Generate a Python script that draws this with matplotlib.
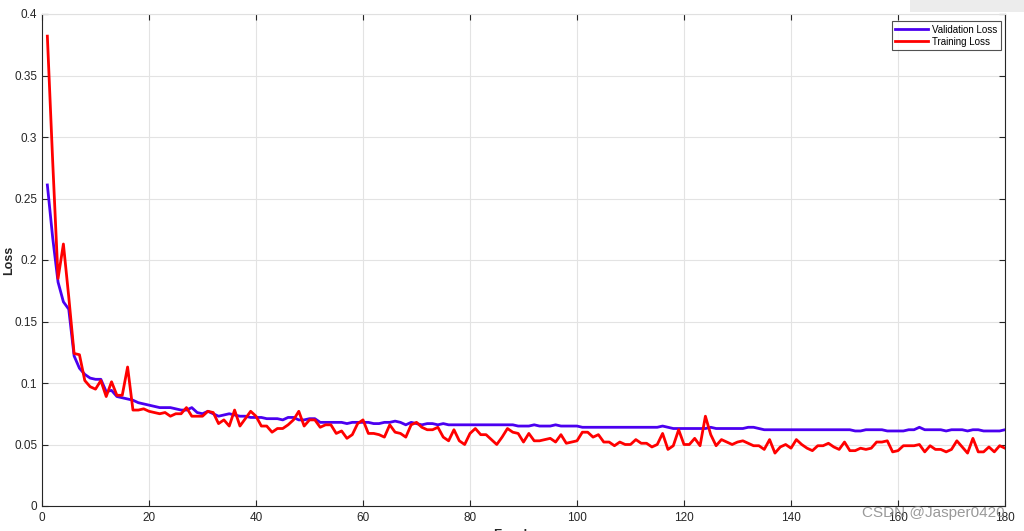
import numpy as np
import matplotlib
matplotlib.use("Agg")
import matplotlib.pyplot as plt
from matplotlib.patches import Rectangle

epochs = list(range(1, 181))

val_loss = [
    0.261, 0.218, 0.182, 0.166, 0.160, 0.122, 0.112, 0.107, 0.104, 0.103,
    0.103, 0.093, 0.094, 0.089, 0.088, 0.087, 0.086, 0.084, 0.083, 0.082,
    0.081, 0.080, 0.080, 0.080, 0.079, 0.078, 0.078, 0.080, 0.076, 0.075,
    0.077, 0.075, 0.073, 0.074, 0.075, 0.074, 0.073, 0.073, 0.072, 0.072,
    0.072, 0.071, 0.071, 0.071, 0.070, 0.072, 0.072, 0.070, 0.070, 0.071,
    0.071, 0.068, 0.068, 0.068, 0.068, 0.068, 0.067, 0.068, 0.068, 0.068,
    0.068, 0.067, 0.067, 0.068, 0.068, 0.069, 0.068, 0.066, 0.068, 0.067,
    0.066, 0.067, 0.067, 0.066, 0.067, 0.066, 0.066, 0.066, 0.066, 0.066,
    0.066, 0.066, 0.066, 0.066, 0.066, 0.066, 0.066, 0.066, 0.065, 0.065,
    0.065, 0.066, 0.065, 0.065, 0.065, 0.066, 0.065, 0.065, 0.065, 0.065,
    0.064, 0.064, 0.064, 0.064, 0.064, 0.064, 0.064, 0.064, 0.064, 0.064,
    0.064, 0.064, 0.064, 0.064, 0.064, 0.065, 0.064, 0.063, 0.063, 0.063,
    0.063, 0.063, 0.063, 0.063, 0.064, 0.063, 0.063, 0.063, 0.063, 0.063,
    0.063, 0.064, 0.064, 0.063, 0.062, 0.062, 0.062, 0.062, 0.062, 0.062,
    0.062, 0.062, 0.062, 0.062, 0.062, 0.062, 0.062, 0.062, 0.062, 0.062,
    0.062, 0.061, 0.061, 0.062, 0.062, 0.062, 0.062, 0.061, 0.061, 0.061,
    0.061, 0.062, 0.062, 0.064, 0.062, 0.062, 0.062, 0.062, 0.061, 0.062,
    0.062, 0.062, 0.061, 0.062, 0.062, 0.061, 0.061, 0.061, 0.061, 0.062,
]

train_loss = [
    0.382, 0.280, 0.185, 0.213, 0.170, 0.124, 0.123, 0.102, 0.097, 0.095,
    0.102, 0.089, 0.101, 0.090, 0.090, 0.113, 0.078, 0.078, 0.079, 0.077,
    0.076, 0.075, 0.076, 0.073, 0.075, 0.075, 0.080, 0.073, 0.073, 0.073,
    0.077, 0.076, 0.067, 0.070, 0.065, 0.078, 0.065, 0.071, 0.077, 0.073,
    0.065, 0.065, 0.060, 0.063, 0.063, 0.066, 0.070, 0.077, 0.065, 0.070,
    0.070, 0.064, 0.066, 0.066, 0.059, 0.061, 0.055, 0.058, 0.067, 0.070,
    0.059, 0.059, 0.058, 0.056, 0.066, 0.060, 0.059, 0.056, 0.066, 0.068,
    0.064, 0.062, 0.062, 0.064, 0.056, 0.053, 0.062, 0.053, 0.050, 0.059,
    0.063, 0.058, 0.058, 0.054, 0.050, 0.056, 0.063, 0.060, 0.059, 0.052,
    0.059, 0.053, 0.053, 0.054, 0.055, 0.052, 0.058, 0.051, 0.052, 0.053,
    0.060, 0.060, 0.056, 0.058, 0.052, 0.052, 0.049, 0.052, 0.050, 0.050,
    0.054, 0.051, 0.051, 0.048, 0.050, 0.059, 0.046, 0.049, 0.062, 0.050,
    0.050, 0.055, 0.049, 0.073, 0.058, 0.049, 0.054, 0.052, 0.050, 0.052,
    0.053, 0.051, 0.049, 0.049, 0.046, 0.054, 0.043, 0.048, 0.050, 0.047,
    0.054, 0.050, 0.047, 0.045, 0.049, 0.049, 0.051, 0.048, 0.046, 0.052,
    0.045, 0.045, 0.047, 0.046, 0.047, 0.052, 0.052, 0.053, 0.044, 0.045,
    0.049, 0.049, 0.049, 0.050, 0.044, 0.049, 0.046, 0.046, 0.044, 0.046,
    0.053, 0.048, 0.043, 0.055, 0.044, 0.044, 0.048, 0.044, 0.049, 0.047,
]

x_ticks = [0, 20, 40, 60, 80, 100, 120, 140, 160, 180]
y_ticks = [0, 0.05, 0.1, 0.15, 0.2, 0.25, 0.3, 0.35, 0.4]
y_ticklabels = ["0", "0.05", "0.1", "0.15", "0.2", "0.25", "0.3", "0.35", "0.4"]

plt.rcParams['font.family'] = ['Liberation Sans', 'DejaVu Sans']

fig = plt.figure(figsize=(10.24, 5.31), dpi=100)
ax = fig.add_axes([42/1024, 25/531, 963/1024, 492/531])

ax.plot(epochs, val_loss, color='#4B00F0', lw=2.0, label='Validation Loss')
ax.plot(epochs, train_loss, color='#FF0000', lw=2.0, label='Training Loss')

ax.set_xlim(0, 180)
ax.set_ylim(0, 0.4)
ax.set_xticks(x_ticks)
ax.set_yticks(y_ticks)
ax.set_yticklabels(y_ticklabels)
ax.grid(True, color='#e3e3e3', lw=0.8)
ax.set_axisbelow(True)
ax.tick_params(direction='in', top=True, right=True, length=4, width=0.8,
               labelsize=8.5, colors='#262626', labelcolor='#262626')
ax.tick_params(axis='x', pad=4)
for side in ['left', 'bottom', 'right']:
    ax.spines[side].set_color('#262626')
    ax.spines[side].set_linewidth(0.8)
ax.spines['top'].set_color('#e0e0e0')
ax.spines['top'].set_linewidth(0.8)

ax.set_ylabel('Loss', fontsize=9, fontweight='bold', color='#262626')
ax.yaxis.set_label_coords(-27/963, 0.5)

fig.text(0.5, 2/531, 'Epoch', ha='center', va='top', fontsize=9,
         fontweight='bold', color='#262626')

leg = ax.legend(loc='upper right', bbox_to_anchor=(0.9955, 0.985), fontsize=7,
                frameon=True, fancybox=False, edgecolor='#262626',
                handlelength=3.4, handletextpad=0.4, borderpad=0.35,
                labelspacing=0.2, borderaxespad=0)
leg.get_frame().set_linewidth(0.8)

fig.text(1005/1024, 18/531, 'CSDN @Jasper0420', ha='right', va='center',
         fontsize=11, color='#808080', alpha=0.8)

fig.patches.append(Rectangle((910/1024, 519/531), 114/1024, 12/531,
                             transform=fig.transFigure, facecolor='#ececec',
                             edgecolor='none'))

fig.savefig('out.png', dpi=100)
